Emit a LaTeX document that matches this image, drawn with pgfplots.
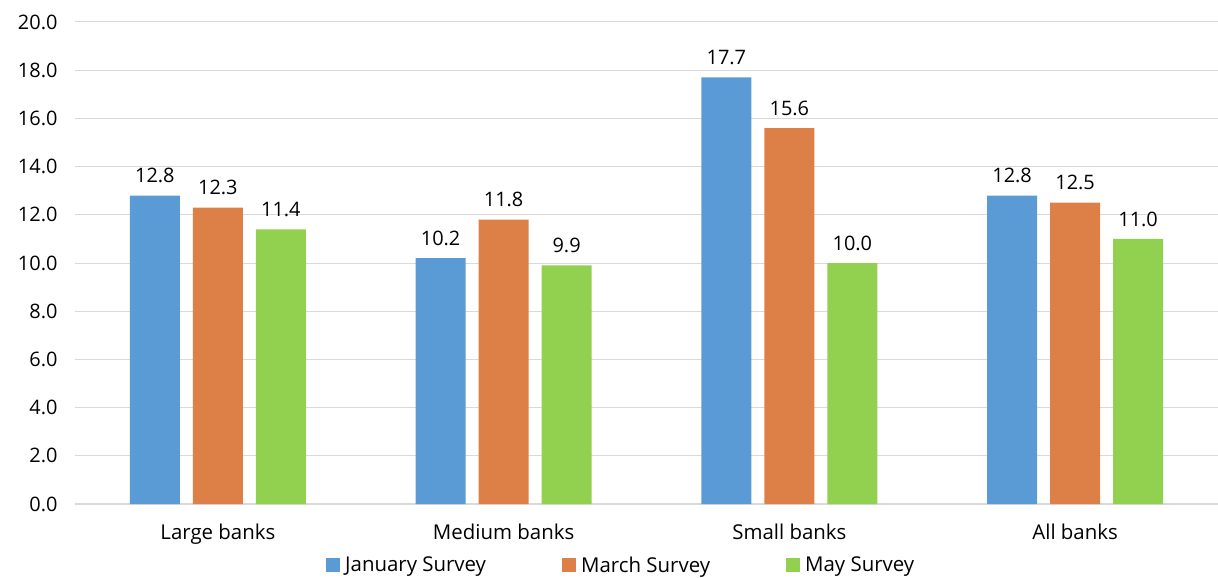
\documentclass[border=0pt]{standalone}
\usepackage{pgfplots}
\pgfplotsset{compat=1.18}
\usepackage{fontspec}
\setmainfont{Open Sans}
\definecolor{cblue}{RGB}{91,155,213}
\definecolor{corange}{RGB}{221,128,71}
\definecolor{cgreen}{RGB}{146,208,80}
\definecolor{cgrid}{RGB}{217,217,217}
\begin{document}
\begin{tikzpicture}
\begin{axis}[
  name=ax,
  at={(0,0)}, anchor=south west,
  scale only axis,
  width=1143bp, height=482bp,
  ybar=13bp, bar width=50bp,
  xmin=-0.5, xmax=3.5,
  ymin=0, ymax=20,
  ytick={0,2,...,20},
  xtick=data,
  xticklabels={Large banks, Medium banks, Small banks, All banks},
  major tick length=0pt,
  ymajorgrids, grid style={cgrid, line width=1bp},
  axis x line*=bottom, axis y line*=left,
  x axis line style={cgrid, line width=1.5bp, -},
  y axis line style={draw=none},
  /pgf/number format/assume math mode=true,
  yticklabel={\pgfmathprintnumber[fixed,fixed zerofill,precision=1]{\tick}},
  tick label style={font=\fontsize{20}{24}\selectfont, text=black},
  yticklabel style={xshift=-14bp},
  xticklabel style={yshift=-16bp, font=\fontsize{20.5}{24}\selectfont},
  nodes near coords={\pgfmathprintnumber[fixed,fixed zerofill,precision=1,assume math mode=true]{\pgfplotspointmeta}},
  nodes near coords style={font=\fontsize{20}{24}\selectfont, text=black, yshift=9bp},
  legend columns=3,
  legend style={draw=none, fill=none, at={(0.477,-0.127)}, anchor=center,
    font=\fontsize{20.5}{24}\selectfont, /tikz/every even column/.append style={column sep=0bp},
    inner sep=0pt, nodes={inner sep=0pt}},
  legend cell align=left,
  legend image code/.code={\fill[#1] (0bp,-7bp) rectangle (14bp,7bp);},
]
\addplot[fill=cblue, draw=none] coordinates {(0,12.8) (1,10.2) (2,17.7) (3,12.8)};
\addplot[fill=corange, draw=none] coordinates {(0,12.3) (1,11.8) (2,15.6) (3,12.5)};
\addplot[fill=cgreen, draw=none] coordinates {(0,11.4) (1,9.9) (2,10.0) (3,11.0)};
\legend{\makebox[222bp][l]{\hspace{5bp}January Survey}, \makebox[210bp][l]{\hspace{5bp}March Survey}, \hspace{5bp}May Survey}
\end{axis}
\pgfresetboundingbox
\path ([shift={(-75bp,-73bp)}]ax.south west) rectangle ([shift={(0bp,22bp)}]ax.north east);
\end{tikzpicture}
\end{document}
